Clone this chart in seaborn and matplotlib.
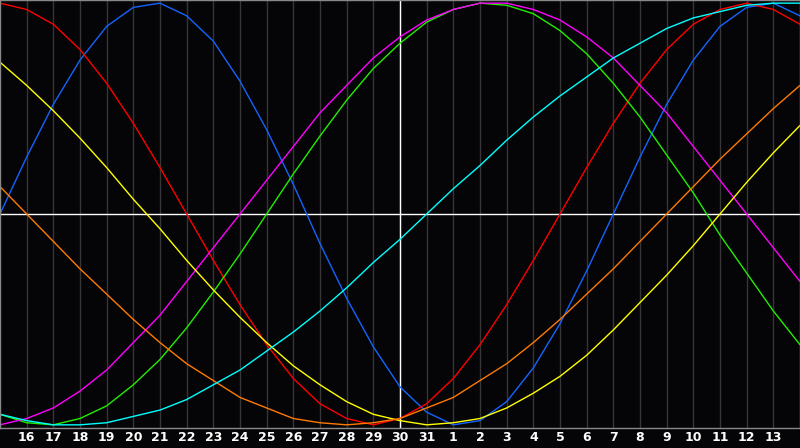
import pandas as pd
import seaborn as sns
import matplotlib
matplotlib.use("Agg")
import matplotlib.pyplot as plt

# 30-day window, the 15th of one month to the 14th of the next
day_labels = [str(d) for d in range(15, 32)] + [str(d) for d in range(1, 15)]

physical = [0.00, 0.27, 0.52, 0.73, 0.89, 0.98, 1.00, 0.94, 0.82, 0.63, 0.40, 0.14, -0.14, -0.40, -0.63, -0.82,
            -0.94, -1.00, -0.98, -0.89, -0.73, -0.52, -0.27, 0.00, 0.27, 0.52, 0.73, 0.89, 0.98, 1.00, 0.94]
emotional = [1.00, 0.97, 0.90, 0.78, 0.62, 0.43, 0.22, 0.00, -0.22, -0.43, -0.62, -0.78, -0.90, -0.97, -1.00, -0.97,
             -0.90, -0.78, -0.62, -0.43, -0.22, 0.00, 0.22, 0.43, 0.62, 0.78, 0.90, 0.97, 1.00, 0.97, 0.90]
intellectual = [-0.95, -0.99, -1.00, -0.97, -0.91, -0.81, -0.69, -0.54, -0.37, -0.19, 0.00, 0.19, 0.37, 0.54, 0.69, 0.81,
                0.91, 0.97, 1.00, 0.99, 0.95, 0.87, 0.76, 0.62, 0.46, 0.28, 0.10, -0.10, -0.28, -0.46, -0.62]
intuitive = [-1.00, -0.97, -0.92, -0.84, -0.74, -0.61, -0.48, -0.32, -0.16, 0.00, 0.16, 0.32, 0.48, 0.61, 0.74, 0.84,
             0.92, 0.97, 1.00, 1.00, 0.97, 0.92, 0.84, 0.74, 0.61, 0.48, 0.32, 0.16, 0.00, -0.16, -0.32]
aesthetic = [0.72, 0.61, 0.49, 0.36, 0.22, 0.07, -0.07, -0.22, -0.36, -0.49, -0.61, -0.72, -0.81, -0.89, -0.95, -0.98,
             -1.00, -0.99, -0.97, -0.92, -0.85, -0.77, -0.67, -0.55, -0.42, -0.29, -0.15, 0.00, 0.15, 0.29, 0.42]
awareness = [0.13, 0.00, -0.13, -0.26, -0.38, -0.50, -0.61, -0.71, -0.79, -0.87, -0.92, -0.97, -0.99, -1.00, -0.99, -0.97,
             -0.92, -0.87, -0.79, -0.71, -0.61, -0.50, -0.38, -0.26, -0.13, 0.00, 0.13, 0.26, 0.38, 0.50, 0.61]
spiritual = [-0.95, -0.98, -1.00, -1.00, -0.99, -0.96, -0.93, -0.88, -0.81, -0.74, -0.65, -0.56, -0.46, -0.35, -0.23, -0.12,
             0.00, 0.12, 0.23, 0.35, 0.46, 0.56, 0.65, 0.74, 0.81, 0.88, 0.93, 0.96, 0.99, 1.00, 1.00]

colors = {
    'Physical': '#1464ff',
    'Emotional': '#ff0000',
    'Intellectual': '#22ee00',
    'Intuitive': '#ff00ff',
    'Aesthetic': '#ffff00',
    'Awareness': '#ff7a00',
    'Spiritual': '#00ffff',
}
series = {
    'Physical': physical,
    'Emotional': emotional,
    'Intellectual': intellectual,
    'Intuitive': intuitive,
    'Aesthetic': aesthetic,
    'Awareness': awareness,
    'Spiritual': spiritual,
}

rows = []
for name, vals in series.items():
    for i, v in enumerate(vals):
        rows.append((i, v, name))
df = pd.DataFrame(rows, columns=['x', 'y', 'cycle'])

sns.set_style('dark')
bg = '#050507'
fig = plt.figure(figsize=(8, 4.48), dpi=100, facecolor=bg)
ax = fig.add_axes([0, 20 / 448, 1, 428 / 448])
ax.set_facecolor(bg)

# day grid + the "today" cross
for i in range(1, 30):
    ax.axvline(i, color='#363636', lw=1, zorder=0)
ax.axvline(15, color='white', lw=1, zorder=1)
ax.axhline(0, color='white', lw=1, zorder=1)

sns.lineplot(data=df, x='x', y='y', hue='cycle', palette=colors, lw=1.0, legend=False, ax=ax)

ax.set_xlim(0, 30)
ax.set_ylim(-1.015, 1.015)
ax.set_xticks(range(1, 30))
ax.set_xticklabels(day_labels[1:30], color='white', fontweight='bold', fontsize=9)
ax.tick_params(axis='x', length=0, pad=2)
ax.set_yticks([])
ax.set_xlabel('')
ax.set_ylabel('')
for s in ax.spines.values():
    s.set_color('#888888')
    s.set_linewidth(1)
ax.grid(False)

fig.savefig('out.png', dpi=100, facecolor=fig.get_facecolor())
